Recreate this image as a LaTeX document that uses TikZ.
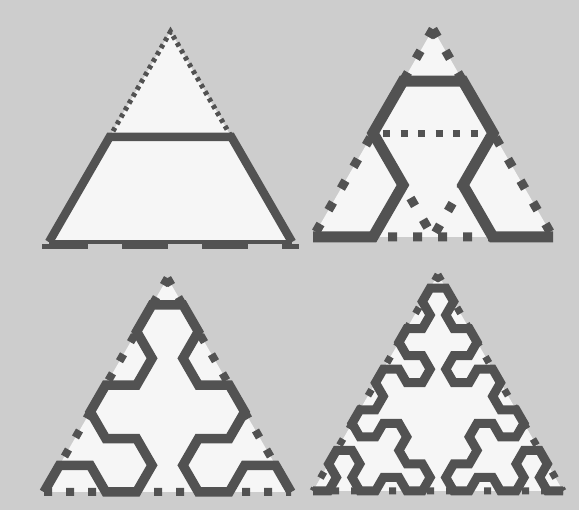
\documentclass[tikz,border=0pt]{standalone}
\usetikzlibrary{lindenmayersystems}
\definecolor{paper}{RGB}{205,205,205}
\definecolor{sheet}{RGB}{246,246,246}
\definecolor{ink}{RGB}{82,82,82}

\pgfdeclarelindenmayersystem{arrowhead}{
  \symbol{F}{\pgflsystemdrawforward}
  \symbol{G}{\pgflsystemdrawforward}
  \rule{F -> G-F-G}
  \rule{G -> F+G+F}
}

\begin{document}
\begin{tikzpicture}[x=1pt,y=1pt,
  sheet/.style={fill=sheet},
  curve/.style={draw=ink,line join=miter},
  outline/.style={draw=ink,line join=miter}]
\fill[paper] (0,0) rectangle (579,510);
\useasboundingbox (0,0) rectangle (579,510);

% order 1
\begin{scope}[shift={(49,268)}]
  \coordinate (L1) at (0,0);
  \coordinate (R1) at (243,0);
  \coordinate (T1) at (121.5,210.4);
  \fill[sheet] (L1) -- (R1) -- (T1) -- cycle;
  \draw[outline,line width=5,dash pattern=on 4pt off 4pt] (L1) -- (T1) -- (R1);
  \draw[outline,line width=4.5] (L1) -- (R1);
  \draw[outline,line width=5,dash pattern=on 46pt off 34pt] ([shift={(-7,-5)}]L1) -- ([shift={(7,-5)}]R1);
  \draw[curve,line width=8.5,l-system={arrowhead,axiom=+F,order=1,step=121.5pt,angle=60}] (L1) lindenmayer system;
\end{scope}

% order 2
\begin{scope}[shift={(313,273)}]
  \coordinate (L2) at (0,0);
  \coordinate (R2) at (240,0);
  \coordinate (T2) at (120,207.8);
  \coordinate (P2) at (60,103.9);
  \coordinate (Q2) at (180,103.9);
  \coordinate (M2) at (120,0);
  \fill[sheet] (L2) -- (R2) -- (T2) -- cycle;
  \draw[outline,line width=9,dash pattern=on 9pt off 16pt] (T2) -- (L2) (T2) -- (R2) (L2) -- (R2);
  \draw[outline,line width=9,dash pattern=on 9pt off 16pt] (P2) -- (M2) -- (Q2);
  \draw[outline,line width=7,dash pattern=on 7pt off 10.5pt,dash phase=7.5pt] (P2) -- (Q2);
  \draw[curve,line width=11,l-system={arrowhead,axiom=F,order=2,step=60pt,angle=60}] (L2) lindenmayer system;
\end{scope}

% order 3
\begin{scope}[shift={(44,18)}]
  \coordinate (L3) at (0,0);
  \coordinate (R3) at (247,0);
  \coordinate (T3) at (123.5,213.9);
  \fill[sheet] (L3) -- (R3) -- (T3) -- cycle;
  \draw[outline,line width=8,dash pattern=on 8pt off 14pt] (T3) -- (L3) (T3) -- (R3) (L3) -- (R3);
  \draw[curve,line width=9.5,l-system={arrowhead,axiom=+F,order=3,step=30.875pt,angle=60}] (L3) lindenmayer system;
\end{scope}

% order 4
\begin{scope}[shift={(313,19)}]
  \coordinate (L4) at (0,0);
  \coordinate (R4) at (250,0);
  \coordinate (T4) at (125,216.5);
  \fill[sheet] (L4) -- (R4) -- (T4) -- cycle;
  \draw[outline,line width=7,dash pattern=on 7pt off 12pt] (T4) -- (L4) (T4) -- (R4) (L4) -- (R4);
  \draw[curve,line width=9,l-system={arrowhead,axiom=F,order=4,step=15.625pt,angle=60}] (L4) lindenmayer system;
\end{scope}
\end{tikzpicture}
\end{document}
